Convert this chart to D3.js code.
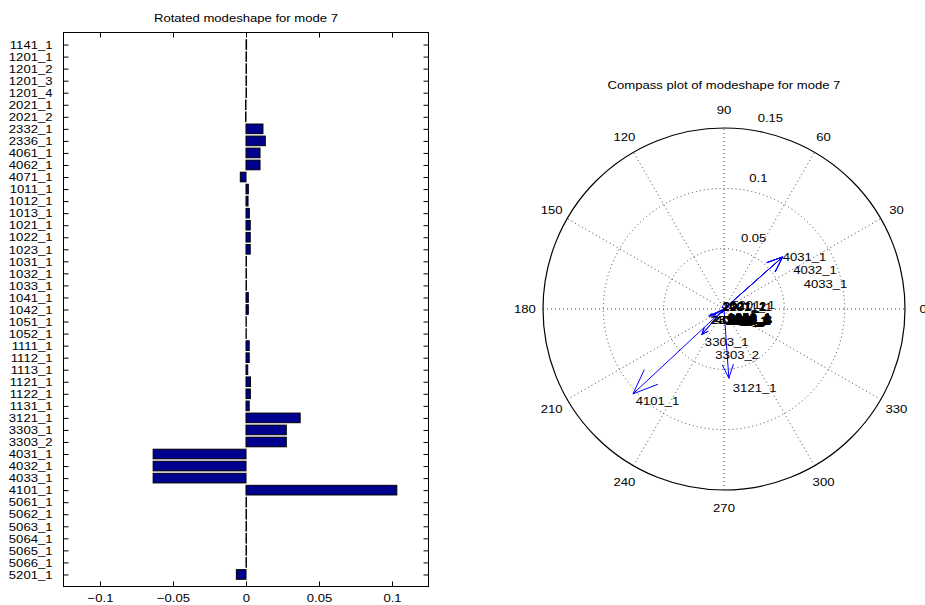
<!DOCTYPE html>
<html>
<head>
<meta charset="utf-8">
<script src="https://cdn.jsdelivr.net/npm/d3@7/dist/d3.min.js"></script>
<style>
  body { margin: 0; background: #fff; }
  svg { display: block; }
  text { font-family: "Liberation Sans", Arial, Helvetica, sans-serif; fill: #000; }
</style>
</head>
<body>
<svg id="fig" width="925" height="605"></svg>
<script>
// Channel names, top to bottom
const channels = [
  "1141_1","1201_1","1201_2","1201_3","1201_4","2021_1","2021_2","2332_1","2336_1",
  "4061_1","4062_1","4071_1","1011_1","1012_1","1013_1","1021_1","1022_1","1023_1",
  "1031_1","1032_1","1033_1","1041_1","1042_1","1051_1","1052_1","1111_1","1112_1",
  "1113_1","1121_1","1122_1","1131_1","3121_1","3303_1","3303_2","4031_1","4032_1",
  "4033_1","4101_1","5061_1","5062_1","5063_1","5064_1","5065_1","5066_1","5201_1"
];

// Rotated (real) modeshape component per channel
const rotatedValues = [
  0.0004, 0.0003, 0.0003, 0.0003, 0.0003, -0.0003, -0.0003, 0.0116, 0.0132,
  0.0096, 0.0096, -0.0039, 0.0016, 0.0014, 0.0023, 0.0029, 0.0029, 0.0029,
  0.0003, 0.0003, 0.0003, 0.0016, 0.0016, 0.0002, 0.0002, 0.0022, 0.0022,
  0.0012, 0.0031, 0.0030, 0.0022, 0.0371, 0.0276, 0.0276, -0.0636, -0.0636,
  -0.0636, 0.1033, 0.0003, 0.0003, 0.0003, 0.0003, 0.0003, 0.0003, -0.0066
];

// Complex modeshape per channel: magnitude and phase angle (degrees)
const compassMagnitude = [
  0.0012, 0.0020, 0.0020, 0.0018, 0.0018, 0.0025, 0.0025, 0.0125, 0.0140,
  0.0102, 0.0102, 0.0042, 0.0020, 0.0018, 0.0026, 0.0032, 0.0032, 0.0032,
  0.0010, 0.0010, 0.0010, 0.0020, 0.0020, 0.0008, 0.0008, 0.0025, 0.0025,
  0.0015, 0.0034, 0.0033, 0.0025, 0.0576, 0.0280, 0.0280, 0.0650, 0.0650,
  0.0650, 0.1032, 0.0010, 0.0012, 0.0010, 0.0012, 0.0010, 0.0012, 0.0070
];
const compassAngle = [
  305, 135, 135, 300, 300, 120, 120, 205, 205,
  210, 210, 25, 250, 255, 240, 240, 240, 240,
  300, 300, 300, 250, 250, 310, 310, 245, 245,
  255, 240, 240, 245, 274, 229, 229, 41.6, 41.6,
  41.6, 223, 310, 300, 310, 300, 310, 300, 30
];

const xTicks = [-0.1, -0.05, 0, 0.05, 0.1];
const xTickLabels = ["\u22120.1", "\u22120.05", "0", "0.05", "0.1"];
const angleTicks = [0, 30, 60, 90, 120, 150, 180, 210, 240, 270, 300, 330];
const radialTicks = [0.05, 0.1, 0.15];

const barTitle = "Rotated modeshape for mode 7";
const compassTitle = "Compass plot of modeshape for mode 7";

// ---------- shared text styling ----------
const FS = 11.7;      // font size
const SX = 1.12;      // horizontal stretch of glyphs
function stretch(sel) {
  sel.each(function () {
    const t = d3.select(this);
    const x = +t.attr("x") || 0;
    t.attr("x", x / SX).attr("transform", `scale(${SX},1)`);
  });
}
function label(parent, x, y, str, anchor) {
  // y is the visual centre of the text line
  const t = parent.append("text")
    .attr("x", x).attr("y", y + 0.35 * FS)
    .attr("font-size", FS)
    .attr("text-anchor", anchor || "middle")
    .text(str);
  stretch(t);
  return t;
}

const svg = d3.select("#fig");

// ================= Bar chart =================
const bar = svg.append("g");
const x = d3.scaleLinear().domain([-0.125, 0.125]).range([63.5, 428.5]);
const y = d3.scaleLinear().domain([0, 46]).range([32.5, 586.5]);
const rowH = y(1) - y(0);
const barH = 0.8 * rowH;

bar.selectAll("rect.bar")
  .data(rotatedValues)
  .join("rect")
  .attr("class", "bar")
  .attr("x", d => x(Math.min(0, d)))
  .attr("width", d => Math.abs(x(d) - x(0)))
  .attr("y", (d, i) => y(i + 1) - barH / 2)
  .attr("height", barH)
  .attr("fill", "#00008f")
  .attr("stroke", "#000")
  .attr("stroke-width", 1);

// axes with inward ticks
const yAxisL = d3.axisLeft(y).tickValues(d3.range(1, channels.length + 1))
  .tickFormat(i => channels[i - 1]).tickSizeInner(-5).tickSizeOuter(0).tickPadding(11);
const yAxisR = d3.axisRight(y).tickValues(d3.range(1, channels.length + 1))
  .tickFormat("").tickSizeInner(-5).tickSizeOuter(0);
const xAxisB = d3.axisBottom(x).tickValues(xTicks)
  .tickFormat((d, i) => xTickLabels[i]).tickSizeInner(-5).tickSizeOuter(0).tickPadding(7);
const xAxisT = d3.axisTop(x).tickValues(xTicks)
  .tickFormat("").tickSizeInner(-5).tickSizeOuter(0);

function styleAxis(g) {
  g.attr("font-size", FS).attr("font-family", null).attr("color", "#000");
  g.select(".domain").remove();
  g.selectAll("text").attr("font-size", FS);
  stretch(g.selectAll("text"));
}
bar.append("g").attr("transform", `translate(${x.range()[0]},0)`).call(yAxisL).call(styleAxis);
bar.append("g").attr("transform", `translate(${x.range()[1]},0)`).call(yAxisR).call(styleAxis);
bar.append("g").attr("transform", `translate(0,${y.range()[1]})`).call(xAxisB).call(styleAxis);
bar.append("g").attr("transform", `translate(0,${y.range()[0]})`).call(xAxisT).call(styleAxis);

bar.append("rect")
  .attr("x", x.range()[0]).attr("y", y.range()[0])
  .attr("width", x.range()[1] - x.range()[0])
  .attr("height", y.range()[1] - y.range()[0])
  .attr("fill", "none").attr("stroke", "#000").attr("stroke-width", 1);

label(bar, (x.range()[0] + x.range()[1]) / 2, 17.5, barTitle);

// ================= Compass plot =================
const cx = 724, cy = 309;
const r = d3.scaleLinear().domain([0, 0.15]).range([0, 181]);
const R = r(0.15);
const rad = a => a * Math.PI / 180;
const polar = (m, a) => [cx + r(m) * Math.cos(rad(a)), cy - r(m) * Math.sin(rad(a))];

const comp = svg.append("g");
const dotted = { stroke: "#333", "stroke-width": 0.9, "stroke-dasharray": "1 3", fill: "none" };

// spokes every 30 degrees
comp.selectAll("line.spoke")
  .data(angleTicks.filter(a => a < 180))
  .join("line")
  .attr("class", "spoke")
  .attr("x1", a => polar(0.15, a + 180)[0]).attr("y1", a => polar(0.15, a + 180)[1])
  .attr("x2", a => polar(0.15, a)[0]).attr("y2", a => polar(0.15, a)[1])
  .attr("stroke", dotted.stroke).attr("stroke-width", dotted["stroke-width"])
  .attr("stroke-dasharray", dotted["stroke-dasharray"]);

// inner range rings
comp.selectAll("circle.ring")
  .data(radialTicks.slice(0, -1))
  .join("circle")
  .attr("class", "ring")
  .attr("cx", cx).attr("cy", cy).attr("r", d => r(d))
  .attr("fill", "none")
  .attr("stroke", dotted.stroke).attr("stroke-width", dotted["stroke-width"])
  .attr("stroke-dasharray", dotted["stroke-dasharray"]);

// outer boundary
comp.append("circle")
  .attr("cx", cx).attr("cy", cy).attr("r", R)
  .attr("fill", "none").attr("stroke", "#000").attr("stroke-width", 1.2);

// angle labels
angleTicks.forEach(a => {
  const [lx, ly] = polar(0.15 * 1.1, a);
  label(comp, lx, ly, String(a));
});

// range labels along the 82 degree ray
radialTicks.forEach(v => {
  const [ax, ay] = polar(v, 82);
  label(comp, ax + 8.5, ay - 11.5, String(v), "start");
});

// arrows
const arrows = channels.map((name, i) => {
  const [tx, ty] = polar(compassMagnitude[i], compassAngle[i]);
  return { name, m: compassMagnitude[i], a: compassAngle[i], tx, ty };
});

comp.selectAll("path.arrow")
  .data(arrows)
  .join("path")
  .attr("class", "arrow")
  .attr("d", d => {
    const vx = d.tx - cx, vy = d.ty - cy;
    const nx = -vy, ny = vx;
    const bx = cx + 0.8 * vx, by = cy + 0.8 * vy;
    return `M${cx},${cy}L${d.tx},${d.ty}` +
      `M${bx + 0.08 * nx},${by + 0.08 * ny}L${d.tx},${d.ty}L${bx - 0.08 * nx},${by - 0.08 * ny}`;
  })
  .attr("fill", "none")
  .attr("stroke", "#0000ff")
  .attr("stroke-width", 1);

// channel labels at arrow tips; repeated large vectors are stacked
const seen = new Map();
arrows.forEach(d => {
  const key = d.m + "|" + d.a;
  const k = d.m > 0.02 ? (seen.get(key) || 0) : 0;
  seen.set(key, k + 1);
  const len = Math.hypot(d.tx - cx, d.ty - cy) || 1;
  const uy = Math.max(0, (d.ty - cy) / len);
  label(comp, d.tx + 4 * uy + 10.5 * k, d.ty + 10 * uy + 13.3 * k, d.name, "start");
});

label(comp, cx, 85, compassTitle);
</script>
</body>
</html>
